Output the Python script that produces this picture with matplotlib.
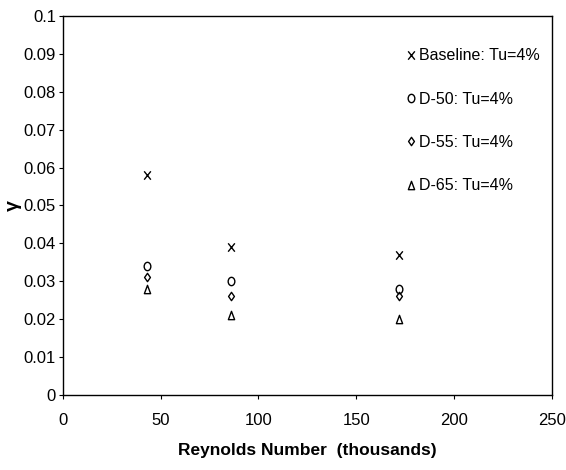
import matplotlib
matplotlib.use('Agg')
import matplotlib.pyplot as plt
from matplotlib.path import Path
from matplotlib.transforms import Affine2D
from matplotlib.markers import MarkerStyle

plt.rcParams['font.family'] = ['Liberation Sans', 'DejaVu Sans']

# Reynolds number (thousands)
reynolds = [43, 86, 172]
baseline = [0.058, 0.039, 0.037]
d50 = [0.034, 0.030, 0.028]
d55 = [0.031, 0.026, 0.026]
d65 = [0.028, 0.021, 0.020]
labels = ['Baseline: Tu=4%', 'D-50: Tu=4%', 'D-55: Tu=4%', 'D-65: Tu=4%']

# slightly tall markers, like the original Excel rendering
squash = Affine2D().scale(0.8, 1.0)
m_x = MarkerStyle('x').get_path().transformed(MarkerStyle('x').get_transform() + squash)
m_o = Path.unit_circle().transformed(squash)
m_d = Path([(0, -1), (0.7, 0), (0, 1), (-0.7, 0), (0, -1)], closed=True)
m_t = Path([(-0.75, -1), (0.75, -1), (0, 1), (-0.75, -1)], closed=True)

series = [(labels[0], baseline, m_x, 6.0),
          (labels[1], d50, m_o, 6.0),
          (labels[2], d55, m_d, 6.0),
          (labels[3], d65, m_t, 6.0)]

fig = plt.figure(figsize=(5.66, 4.70), dpi=100, facecolor='white')
ax = fig.add_axes([0.111, 0.160, 0.864, 0.806])

for label, vals, mk, ms in series:
    ax.plot(reynolds, vals, linestyle='none', marker=mk, markersize=ms,
            markerfacecolor='none', markeredgecolor='black', markeredgewidth=1.0,
            label=label)

ax.set_xlim(0, 250)
ax.set_ylim(0, 0.1)
ax.set_xticks([0, 50, 100, 150, 200, 250])
ax.set_yticks([i / 100 for i in range(11)])
ax.set_yticklabels(['0', '0.01', '0.02', '0.03', '0.04', '0.05', '0.06',
                    '0.07', '0.08', '0.09', '0.1'])
ax.tick_params(direction='out', length=3, width=0.8, labelsize=12, pad=2)
ax.tick_params(axis='x', pad=10)
for s in ax.spines.values():
    s.set_linewidth(1.0)

ax.set_xlabel('Reynolds Number  (thousands)', fontsize=12.5, fontweight='bold', labelpad=11)
ax.set_ylabel('γ', fontsize=14, fontweight='bold', labelpad=1)

ax.legend(loc='upper left', bbox_to_anchor=(0.703, 0.915), frameon=False,
          fontsize=11.5, handlelength=0.5, handletextpad=0.3, labelspacing=1.78,
          borderaxespad=0, borderpad=0)

fig.savefig('out.png', dpi=100, facecolor='white')
